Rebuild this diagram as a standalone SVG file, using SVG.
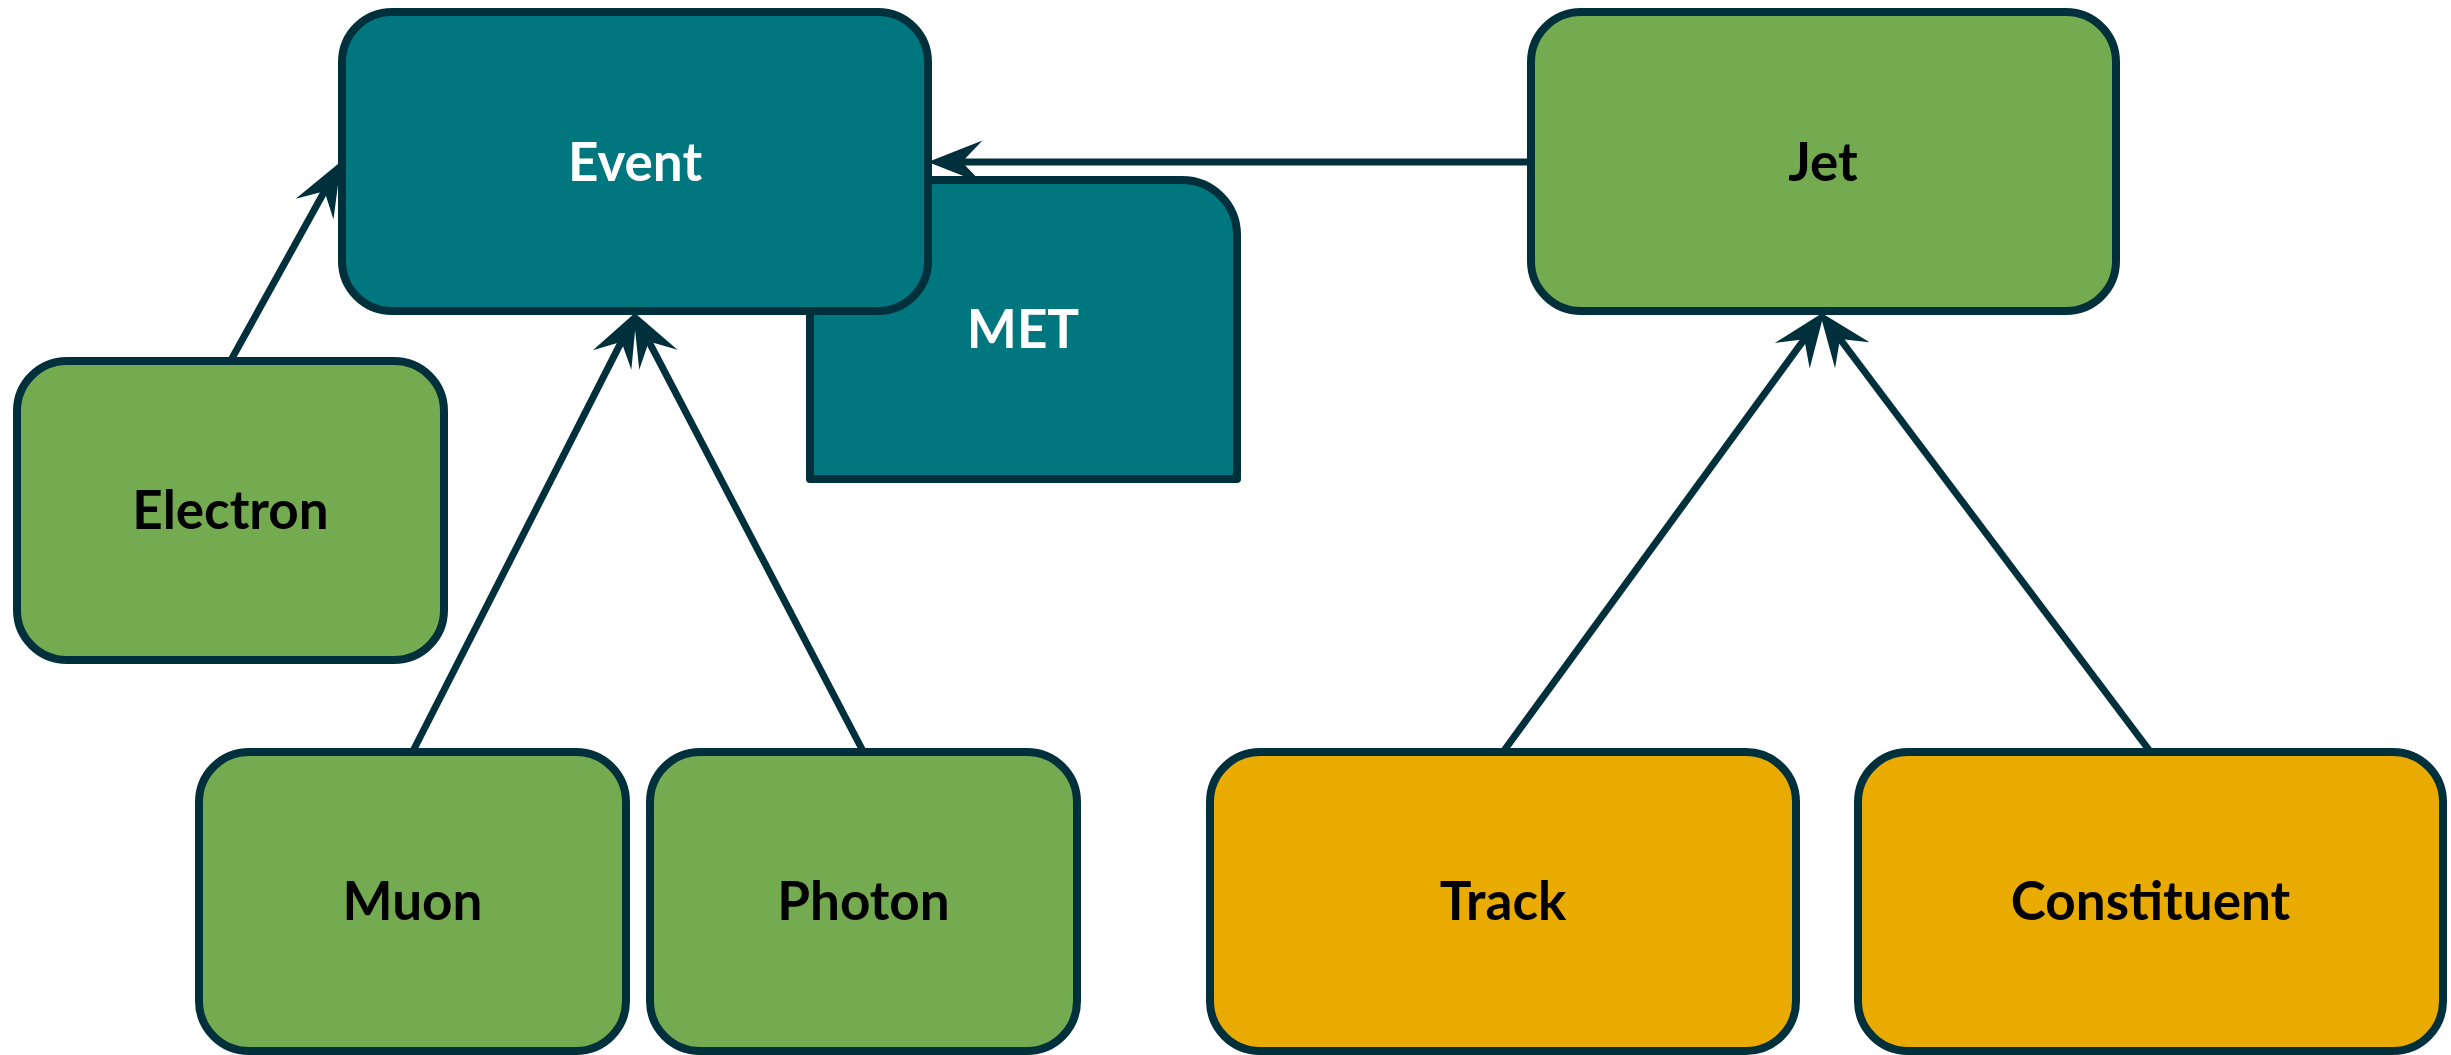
<svg xmlns="http://www.w3.org/2000/svg" width="2451" height="1055" viewBox="0 0 2451 1055">
  <style>
    .box { stroke: #00303b; stroke-width: 8; stroke-linejoin: round; }
    .teal { fill: #00767e; }
    .green { fill: #75ab50; }
    .gold { fill: #e9ab00; }
    .label { font-family: Lato, "Open Sans", "Liberation Sans", sans-serif; font-weight: 700; font-size: 53px; text-anchor: middle; fill: #000000; }
    .label.light { fill: #ffffff; }
    .edge { fill: none; stroke: #00303b; stroke-width: 7; }
  </style>
  <defs>
    <!-- notched arrowhead; the line stops at the notch, the tip sits 30px further on -->
    <marker id="head" markerUnits="userSpaceOnUse" orient="auto" markerWidth="60" markerHeight="50" viewBox="-20 -22 52 44" refX="0" refY="0" overflow="visible">
      <path d="M30,0 L-18,-19 L0,0 L-18,19 Z" fill="#00303b"/>
    </marker>
  </defs>

  <!-- MET sits behind Event -->
  <g id="met">
    <path class="box teal" d="M810,479 L810,180 L1182,180 A55,55 0 0 1 1237,235 L1237,479 Z"/>
    <text class="label light" x="1023" y="348">MET</text>
  </g>

  <g id="event">
    <rect class="box teal" x="342" y="12" width="586" height="299" rx="50" ry="50"/>
    <text class="label light" x="635" y="181">Event</text>
  </g>

  <g id="jet">
    <rect class="box green" x="1531" y="12" width="585" height="299" rx="50" ry="50"/>
    <text class="label" x="1823" y="181">Jet</text>
  </g>

  <g id="electron">
    <rect class="box green" x="17" y="361" width="427" height="299" rx="50" ry="50"/>
    <text class="label" x="230.5" y="529">Electron</text>
  </g>

  <g id="muon">
    <rect class="box green" x="199" y="752" width="427" height="299" rx="50" ry="50"/>
    <text class="label" x="412.5" y="920">Muon</text>
  </g>

  <g id="photon">
    <rect class="box green" x="650" y="752" width="427" height="299" rx="50" ry="50"/>
    <text class="label" x="863.5" y="920">Photon</text>
  </g>

  <g id="track">
    <rect class="box gold" x="1210" y="752" width="586" height="299" rx="50" ry="50"/>
    <text class="label" x="1503" y="920">Track</text>
  </g>

  <g id="constituent">
    <rect class="box gold" x="1858" y="752" width="585" height="299" rx="50" ry="50"/>
    <text class="label" x="2150.5" y="920">Constituent</text>
  </g>

  <g id="connectors">
    <line class="edge" x1="230.5" y1="361" x2="324.5" y2="191.25" marker-end="url(#head)"/>
    <line class="edge" x1="412.5" y1="752" x2="621.4" y2="341.7" marker-end="url(#head)"/>
    <line class="edge" x1="863.5" y1="752" x2="648.9" y2="341.6" marker-end="url(#head)"/>
    <line class="edge" x1="1531" y1="162" x2="962" y2="162" marker-end="url(#head)"/>
    <line class="edge" x1="1503" y1="752" x2="1804.3" y2="339.2" marker-end="url(#head)"/>
    <line class="edge" x1="2150.5" y1="752" x2="1840" y2="339" marker-end="url(#head)"/>
  </g>
</svg>
